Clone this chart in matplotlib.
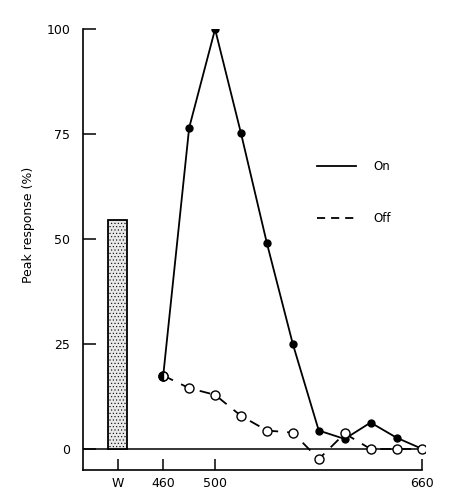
import matplotlib
matplotlib.use("Agg")
import matplotlib.pyplot as plt

# Data
wavelength = [460, 480, 500, 520, 540, 560, 580, 600, 620, 640, 660]
on_resp = [17.5, 76.5, 100, 75.2, 49, 25, 4.4, 2.4, 6.3, 2.7, 0]
off_resp = [17.5, 14.5, 12.9, 7.9, 4.4, 3.9, -2.4, 3.7, 0, 0, 0]
white_pos = 425
white_resp = 54.5
xtick_pos = [425, 460, 500, 660]
xtick_labels = ["W", "460", "500", "660"]
ytick_pos = [0, 25, 50, 75, 100]

plt.rcParams['font.family'] = ['DejaVu Sans']
plt.rcParams['hatch.color'] = '#b8b8b8'
plt.rcParams['hatch.linewidth'] = 0.4

fig = plt.figure(figsize=(4.63, 5.03), dpi=100)
ax = fig.add_axes([0.179, 0.0656, 0.739, 0.8764])

ax.bar([white_pos], [white_resp], width=14.5, facecolor='#e8e8e8',
       edgecolor='black', linewidth=1.3, hatch='.....', zorder=2)

ax.axhline(0, color='black', lw=1.1, zorder=1)

ax.plot(wavelength, on_resp, '-', color='black', lw=1.3, marker='o',
        markersize=5, markerfacecolor='black', markeredgecolor='black',
        label='On', zorder=3)
ax.plot(wavelength, off_resp, color='black', lw=1.3, dashes=(6, 5),
        marker='o', markersize=6.5, markerfacecolor='white',
        markeredgecolor='black', markeredgewidth=1.0, label='Off', zorder=4)
# half-filled marker where both series coincide
ax.plot(wavelength[0], on_resp[0], marker='o', markersize=6.5,
        fillstyle='left', markerfacecolor='black',
        markerfacecoloralt='white', markeredgecolor='black',
        linestyle='none', zorder=5)

ax.set_xlim(398, 662)
ax.set_ylim(-5, 100)
ax.spines['top'].set_visible(False)
ax.spines['right'].set_visible(False)
ax.spines['left'].set_bounds(-5, 100)
ax.spines['bottom'].set_bounds(398, 660)
for s in ('left', 'bottom'):
    ax.spines[s].set_linewidth(1.2)

ax.set_xticks(xtick_pos)
ax.set_xticklabels(xtick_labels)
ax.set_yticks(ytick_pos)
ax.tick_params(axis='x', direction='in', length=8, width=1.1, labelsize=9, pad=5)
ax.tick_params(axis='y', direction='in', length=9, width=1.1, labelsize=9, pad=9)

ax.set_ylabel('Peak response (%)', fontsize=9)
ax.yaxis.set_label_coords(-0.14, 0.555)

leg = ax.legend(handles=[ax.lines[1], ax.lines[2]], labels=['On', 'Off'],
                loc='upper left', bbox_to_anchor=(0.652, 0.728),
                frameon=False, handlelength=3.3, handletextpad=1.5,
                labelspacing=3.3, fontsize=8.5)
for h in leg.legend_handles:
    h.set_marker('')
leg.legend_handles[1].set_dashes((4.5, 3.3))

fig.savefig('out.png', dpi=100)
